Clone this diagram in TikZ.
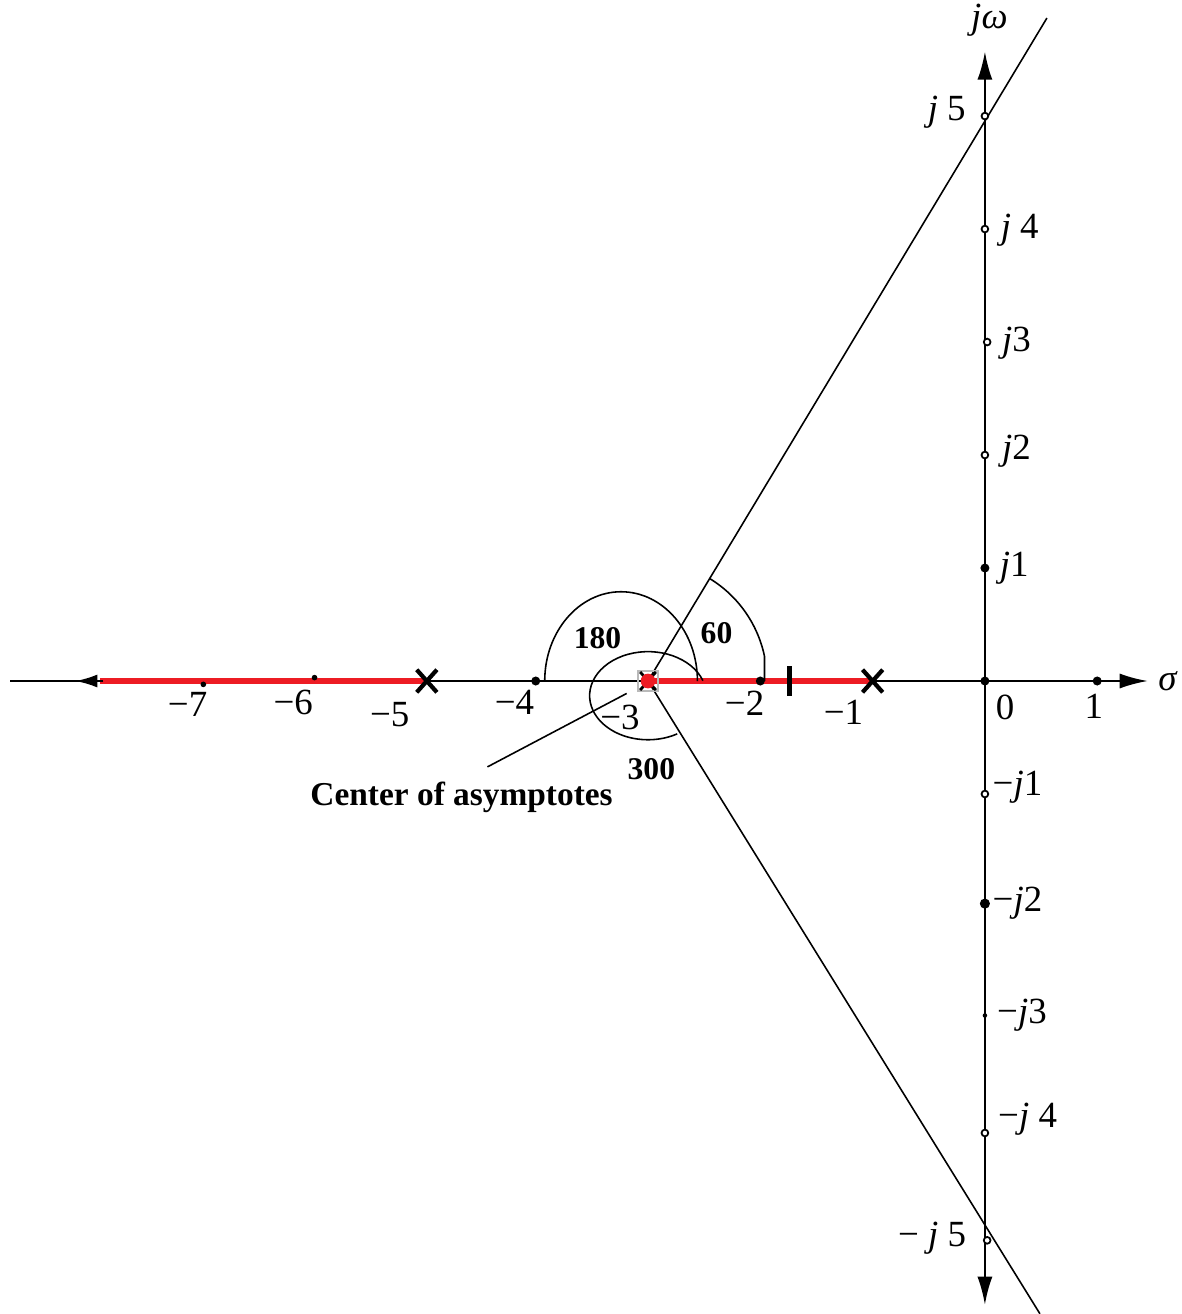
\documentclass[tikz,border=0pt]{standalone}
\usepackage{fontspec}
\setmainfont{Liberation Serif}
\usetikzlibrary{arrows.meta}
\definecolor{locus}{RGB}{237,28,36}

\begin{document}
\begin{tikzpicture}[x=1.123cm, y=1.13cm, >={Latex[length=2.8mm,width=1.5mm]},
	every node/.style={inner sep=1pt, font=\fontsize{10.5}{12}\selectfont},
	ang/.style={font=\fontsize{9}{11}\selectfont\bfseries},
	axis/.style={line width=0.6pt},
	asym/.style={line width=0.45pt},
	pole/.style={line width=1.2pt},
	hole/.style={line width=0.5pt, fill=white}]
	\useasboundingbox (-8.771,-5.602) rectangle (1.754,6.027);
	
	% 坐标轴
	\draw[axis, ->] (-8.68,0) -- (1.45,0);
	\draw[axis, <->] (0,-5.52) -- (0,5.57);
	\node (sig) at (1.63,0) {\textit{σ}};
	\node (jw) at (0.04,5.85) {\textit{jω}};
	
	% 根轨迹 (实轴部分)
	\draw[locus, line width=1.5pt] (-7.88,0) -- (-4.97,0);
	\draw[locus, line width=1.5pt] (-3,0) -- (-1,0);
	\draw[axis, -{Latex[length=2.2mm,width=1.3mm]}] (-7.85,0) -- (-8.1,0);
	
	% 渐近线
	\draw[asym] (-3,0) -- (0.552,5.867);
	\draw[asym] (-3,0) -- (0.49,-5.60);
	
	% 角度弧
	\draw[asym] (-2.56,0) arc[start angle=0, end angle=180, x radius=0.68, y radius=0.79];
	\draw[asym] (59:1.06) ++(-3,0) arc[start angle=59, end angle=12, radius=1.06] -- (-1.963,0);
	\draw[asym] (-3,-0.13) ++(20:0.52 and 0.39) arc[start angle=20, end angle=300, x radius=0.52, y radius=0.39];
	\node[ang] (a180) at (-3.45,0.38) {180};
	\node[ang] (a60) at (-2.39,0.42) {60};
	\node[ang] (a300) at (-2.97,-0.78) {300};
	
	% 极点
	\foreach \p in {-4.97,-1} {
		\draw[pole] (\p-0.09,-0.1) -- (\p+0.09,0.1);
		\draw[pole] (\p-0.09,0.1) -- (\p+0.09,-0.1);
	}
	\draw[gray!55, line width=0.6pt] (-3.09,-0.09) rectangle (-2.91,0.09);
	\draw[line width=0.8pt] (-3.07,-0.08) -- (-2.93,0.08) (-3.07,0.08) -- (-2.93,-0.08);
	\fill[locus] (-3,0) circle (0.065);
	\draw[line width=1.4pt] (-1.74,-0.13) -- (-1.74,0.13);
	
	% 刻度点
	\foreach \x in {-4,-2,0,1} \fill (\x,0) circle (0.04);
	\fill (-6.96,-0.03) circle (0.025);
	\fill (-5.97,0.03) circle (0.025);
	\foreach \y in {5,4,2,-1,-4} \draw[hole] (0,\y) circle (0.03);
	\draw[hole] (0.02,3) circle (0.03);
	\draw[hole] (0.02,-4.95) circle (0.03);
	\fill (0,1) circle (0.04);
	\fill (0,-1.97) circle (0.045);
	\fill (0,-2.96) circle (0.02);
	
	% 实轴刻度
	\node (r7) at (-7.10,-0.21) {−7};
	\node (r6) at (-6.16,-0.19) {−6};
	\node (r5) at (-5.30,-0.30) {−5};
	\node (r4) at (-4.19,-0.19) {−4};
	\node (r3) at (-3.25,-0.32) {−3};
	\node (r2) at (-2.14,-0.20) {−2};
	\node (r1) at (-1.26,-0.28) {−1};
	\node (r0) at (0.18,-0.23) {0};
	\node (rp1) at (0.97,-0.22) {1};
	
	% 虚轴刻度
	\node (i5) at (-0.34,5.03) {\textit{j} 5};
	\node (i4) at (0.31,3.99) {\textit{j} 4};
	\node (i3) at (0.28,2.99) {\textit{j}3};
	\node (i2) at (0.28,2.03) {\textit{j}2};
	\node (i1) at (0.26,1.00) {\textit{j}1};
	\node (m1) at (0.29,-0.94) {−\textit{j}1};
	\node (m2) at (0.29,-1.97) {−\textit{j}2};
	\node (m3) at (0.33,-2.96) {−\textit{j}3};
	\node (m4) at (0.38,-3.88) {−\textit{j} 4};
	\node (m5) at (-0.47,-4.93) {− \textit{j} 5};
	
	% 渐近线中心
	\node[ang, font=\fontsize{9.5}{11}\selectfont\bfseries] (cen) at (-4.66,-1.03) {Center of asymptotes};
	\coordinate (cptr) at (-4.43,-0.76);
	\coordinate (ctip) at (-3.19,-0.11);
	\draw[asym] (cptr) -- (ctip);
\end{tikzpicture}
\end{document}
